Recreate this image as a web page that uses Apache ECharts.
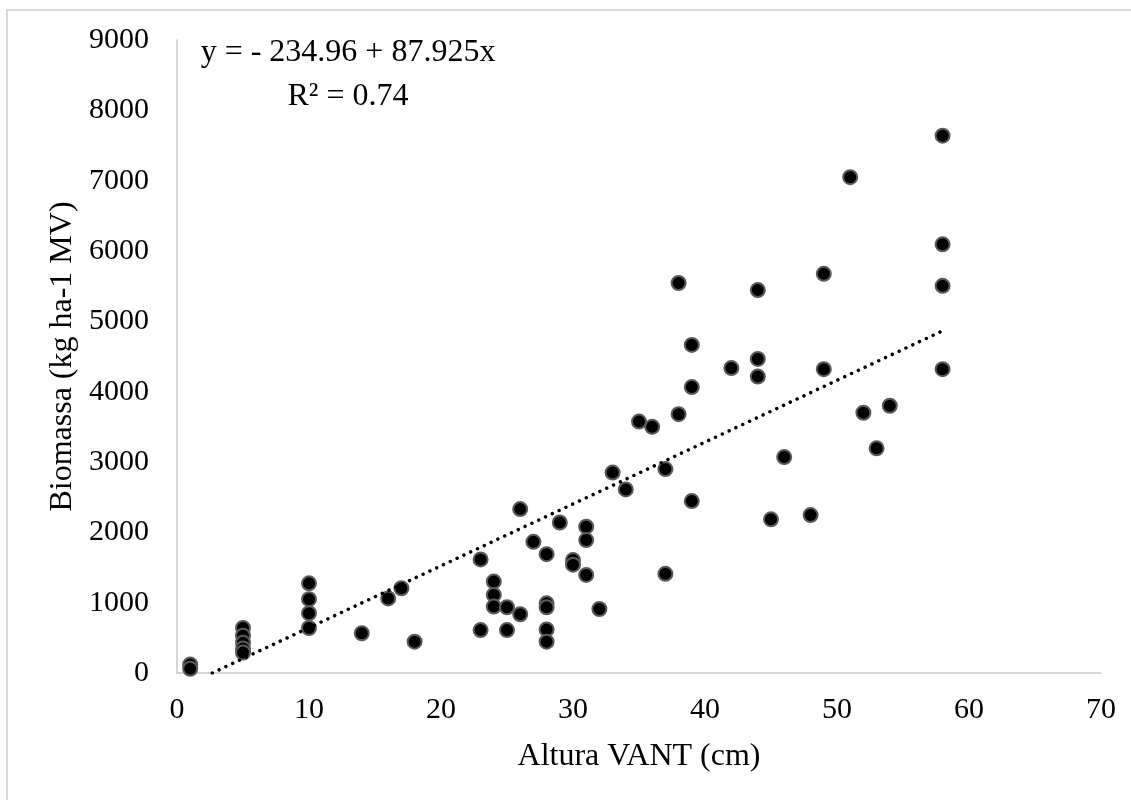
<!DOCTYPE html>
<html>
<head>
<meta charset="utf-8">
<script src="https://cdn.jsdelivr.net/npm/echarts@6/dist/echarts.min.js"></script>
<style>
  html, body { margin: 0; padding: 0; background: #fff; }
  #chart { width: 1131px; height: 800px; }
</style>
</head>
<body>
<div id="chart"></div>
<script>
// altura (cm) e biomassa (kg/ha)
const altura = [
  1, 1,
  5, 5, 5, 5, 5,
  10, 10, 10, 10,
  14, 16, 17, 18,
  23, 23,
  24, 24, 24,
  25, 25,
  26, 26,
  27,
  28, 28, 28, 28, 28,
  29,
  30, 30,
  31, 31, 31,
  32, 33, 34, 35, 36,
  37, 37,
  38, 38,
  39, 39, 39,
  42,
  44, 44, 44,
  45, 46, 48,
  49, 49,
  51, 52, 53, 54,
  58, 58, 58, 58
];
const biomassa = [
  120, 60,
  640, 530, 430, 350, 290,
  1275, 1050, 850, 640,
  565, 1060, 1205, 445,
  1615, 610,
  1300, 1110, 945,
  935, 610,
  2330, 835,
  1865,
  1690, 990, 935, 620, 445,
  2140,
  1605, 1540,
  2080, 1890, 1395,
  910, 2850, 2610, 3575, 3500,
  2900, 1410,
  5545, 3680,
  4665, 4065, 2445,
  4335,
  5445, 4465, 4215,
  2185, 3070, 2245,
  5675, 4320,
  7050, 3700, 3195, 3800,
  7640, 6095, 5505, 4320
];
// linha de tendência: y = a + b x
const coefA = -234.96;
const coefB = 87.925;
const r2 = 0.74;
const xTicks = [0, 10, 20, 30, 40, 50, 60, 70];
const yTicks = [0, 1000, 2000, 3000, 4000, 5000, 6000, 7000, 8000, 9000];

const pontos = altura.map((x, i) => [x, biomassa[i]]);
const xIni = -coefA / coefB;
const xFim = Math.max(...altura);
const tendencia = [[xIni, coefA + coefB * xIni], [xFim, coefA + coefB * xFim]];

const fonte = 'Liberation Serif, Times New Roman, serif';
const chart = echarts.init(document.getElementById('chart'));

const option = {
  animation: false,
  backgroundColor: '#fff',
  textStyle: { fontFamily: fonte },
  grid: { left: 177, right: 30, top: 40, bottom: 127 },
  xAxis: {
    type: 'value',
    min: xTicks[0],
    max: xTicks[xTicks.length - 1],
    interval: 10,
    name: 'Altura VANT (cm)',
    nameLocation: 'middle',
    nameGap: 68,
    nameTextStyle: { fontSize: 32, color: '#000', fontFamily: fonte },
    axisLine: { show: true, lineStyle: { color: '#c8c8c8', width: 1.5 } },
    axisTick: { show: false },
    splitLine: { show: false },
    axisLabel: { fontSize: 30, color: '#000', margin: 22, fontFamily: fonte, formatter: v => String(v) }
  },
  yAxis: {
    type: 'value',
    min: yTicks[0],
    max: yTicks[yTicks.length - 1],
    interval: 1000,
    name: 'Biomassa (kg ha-1 MV)',
    nameLocation: 'middle',
    nameGap: 98,
    nameRotate: 90,
    nameTextStyle: { fontSize: 32, color: '#000', fontFamily: fonte },
    axisLine: { show: true, lineStyle: { color: '#c8c8c8', width: 1.5 } },
    axisTick: { show: false },
    splitLine: { show: false },
    axisLabel: { fontSize: 30, color: '#000', margin: 28, fontFamily: fonte, formatter: v => String(v) }
  },
  graphic: [
    {
      type: 'rect',
      silent: true,
      shape: { x: 7, y: 10, width: 1140, height: 810 },
      style: { fill: 'none', stroke: '#d9d9d9', lineWidth: 2 }
    },
    {
      type: 'text',
      x: 348,
      y: 31,
      style: {
        text: 'y = - ' + Math.abs(coefA).toFixed(2) + ' + ' + coefB.toFixed(3) + 'x\nR² = ' + r2.toFixed(2),
        font: '32px ' + fonte,
        fill: '#000',
        align: 'center',
        lineHeight: 44
      }
    }
  ],
  series: [
    {
      type: 'line',
      data: tendencia,
      symbol: 'none',
      silent: true,
      z: 3,
      lineStyle: { color: '#000', width: 3.5, type: [0.01, 7.5], cap: 'round' }
    },
    {
      type: 'scatter',
      data: pontos,
      symbolSize: 14,
      z: 2,
      itemStyle: { color: '#000', borderColor: '#5a5a5a', borderWidth: 2, opacity: 1 }
    }
  ]
};

chart.setOption(option);
</script>
</body>
</html>
